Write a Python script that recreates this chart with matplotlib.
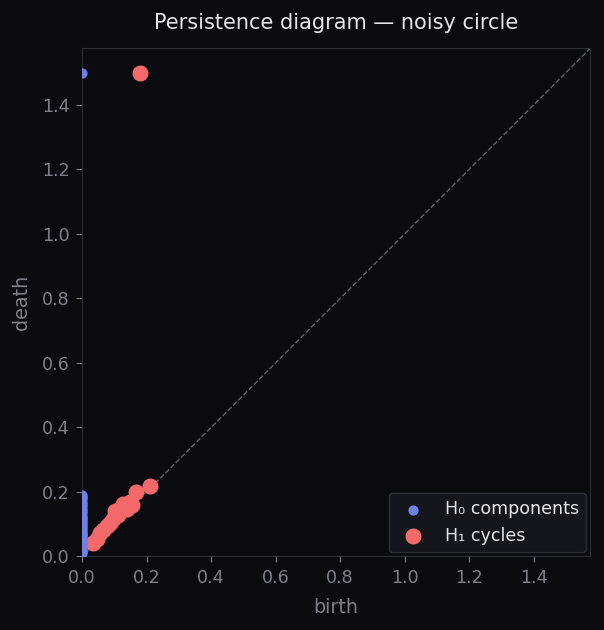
import matplotlib
matplotlib.use("Agg")
import matplotlib.pyplot as plt
import numpy as np

# persistence pairs (inf deaths drawn at 1.5)
h0_birth = [0.0] * 34
h0_death = [1.5, 0.19, 0.185, 0.178, 0.17, 0.162, 0.155, 0.148, 0.14, 0.133,
            0.126, 0.12, 0.113, 0.106, 0.1, 0.094, 0.088, 0.082, 0.076, 0.07,
            0.065, 0.06, 0.055, 0.05, 0.045, 0.04, 0.036, 0.032, 0.028, 0.024,
            0.02, 0.016, 0.013, 0.01]

h1_birth = [0.179, 0.035, 0.045, 0.056, 0.066, 0.077, 0.086, 0.096, 0.102,
            0.112, 0.118, 0.127, 0.139, 0.148, 0.155, 0.167, 0.21]
h1_death = [1.5, 0.043, 0.055, 0.074, 0.082, 0.093, 0.104, 0.115, 0.14,
            0.128, 0.148, 0.161, 0.146, 0.17, 0.16, 0.20, 0.217]

bg = "#0b0b0f"
fg = "#7d8088"
lim = 1.575

fig, ax = plt.subplots(figsize=(6.04, 6.3), dpi=100)
fig.patch.set_facecolor(bg)
ax.set_facecolor(bg)

ax.plot([0, lim], [0, lim], ls="--", lw=1, color="#707379", alpha=0.85, zorder=1)
ax.scatter(h0_birth, h0_death, s=40, color="#6f80e6", label="H₀ components", zorder=3)
ax.scatter(h1_birth, h1_death, s=110, color="#f46a6a", label="H₁ cycles", zorder=2)

ax.set_xlim(0, lim)
ax.set_ylim(0, lim)
ax.set_aspect("equal")
ax.set_xticks(np.arange(0, 1.5, 0.2))
ax.set_yticks(np.arange(0, 1.5, 0.2))
ax.set_xlabel("birth", color=fg, fontsize=13.8, labelpad=8)
ax.set_ylabel("death", color=fg, fontsize=13.8, labelpad=8)
ax.set_title("Persistence diagram — noisy circle", color="#e6e6ea", fontsize=15, pad=14)
ax.tick_params(colors=fg, labelsize=12.6, length=4.5, pad=4.5)
for sp in ax.spines.values():
    sp.set_color("#2c2f35")

leg = ax.legend(loc="lower right", fontsize=12.6, facecolor="#14161b",
                edgecolor="#2c2f35", labelcolor="#e6e6ea", framealpha=1,
                borderaxespad=0.25)

plt.subplots_adjust(left=0.136, right=0.977, top=0.924, bottom=0.116)
fig.savefig("out.png", facecolor=bg)
